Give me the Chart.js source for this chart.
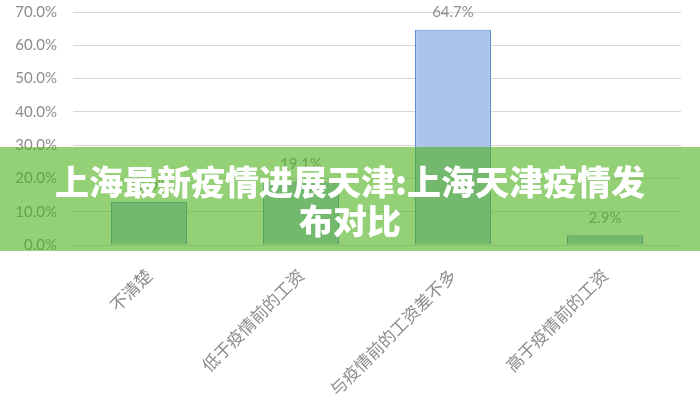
<!DOCTYPE html>
<html>
<head>
<meta charset="utf-8">
<script src="https://cdn.jsdelivr.net/npm/chart.js@4/dist/chart.umd.min.js"></script>
<style>
    html, body { margin: 0; padding: 0; background: #fff; }
    #wrap { width: 700px; height: 400px; position: relative; }
</style>
</head>
<body>
<div id="wrap"><canvas id="chart" width="700" height="400"></canvas></div>
<script>
// Chart data
const categories = ['不清楚', '低于疫情前的工资', '与疫情前的工资差不多', '高于疫情前的工资'];
const shares = [13.0, 19.1, 64.7, 2.9];
const yTicks = [0, 10, 20, 30, 40, 50, 60, 70];
const titleLines = ['上海最新疫情进展天津:上海天津疫情发', '布对比'];

// Value labels above each bar
const valueLabels = {
    id: 'valueLabels',
    afterDatasetsDraw: (chart) => {
        const ctx = chart.ctx;
        const meta = chart.getDatasetMeta(0);
        ctx.save();
        ctx.font = '15px Lato, "Noto Sans CJK SC", sans-serif';
        ctx.fillStyle = '#8f8f8f';
        ctx.textAlign = 'center';
        ctx.textBaseline = 'middle';
        meta.data.forEach((bar, i) => {
            ctx.fillText(shares[i].toFixed(1) + '%', bar.x, bar.y - 17);
        });
        ctx.restore();
    }
};

// Green banner with the title across the middle
const banner = {
    id: 'banner',
    afterDraw: (chart) => {
        const ctx = chart.ctx;
        ctx.save();
        ctx.fillStyle = 'rgba(76, 176, 26, 0.6)';
        ctx.fillRect(0, 147, chart.width, 104);
        ctx.font = '900 34px "Noto Sans CJK SC", sans-serif';
        ctx.fillStyle = '#ffffff';
        ctx.textAlign = 'center';
        ctx.textBaseline = 'middle';
        ctx.fillText(titleLines[0], 350, 182);
        ctx.fillText(titleLines[1], 350, 221);
        ctx.restore();
    }
};

new Chart(document.getElementById('chart'), {
    type: 'bar',
    data: {
        labels: categories,
        datasets: [{
            data: shares,
            backgroundColor: '#aac5e9',
            borderColor: '#5b8fd2',
            borderWidth: 1.2,
            barPercentage: 0.5,
            categoryPercentage: 1
        }]
    },
    options: {
        responsive: false,
        animation: false,
        layout: { padding: { left: 0, right: 19, top: 12, bottom: 0 } },
        plugins: {
            legend: { display: false },
            tooltip: { enabled: false }
        },
        scales: {
            y: {
                min: 0,
                max: 70,
                afterBuildTicks: (axis) => { axis.ticks = yTicks.map(v => ({ value: v })); },
                afterFit: (s) => { s.width = 73; s.paddingTop = 0; s.paddingBottom = 0; },
                grid: { color: '#d9d9d9', drawTicks: false },
                border: { display: false },
                ticks: {
                    padding: 16,
                    color: '#8c8c8c',
                    font: { family: 'Lato, sans-serif', size: 15 },
                    callback: (v) => v.toFixed(1) + '%'
                }
            },
            x: {
                afterFit: (s) => { s.height = 155; s.paddingLeft = 0; s.paddingRight = 0; },
                grid: { display: false },
                border: { display: false },
                ticks: {
                    minRotation: 45,
                    maxRotation: 45,
                    padding: 12,
                    color: '#8c8c8c',
                    font: { family: '"Noto Sans CJK SC", sans-serif', size: 17 }
                }
            }
        }
    },
    plugins: [valueLabels, banner]
});
</script>
</body>
</html>
